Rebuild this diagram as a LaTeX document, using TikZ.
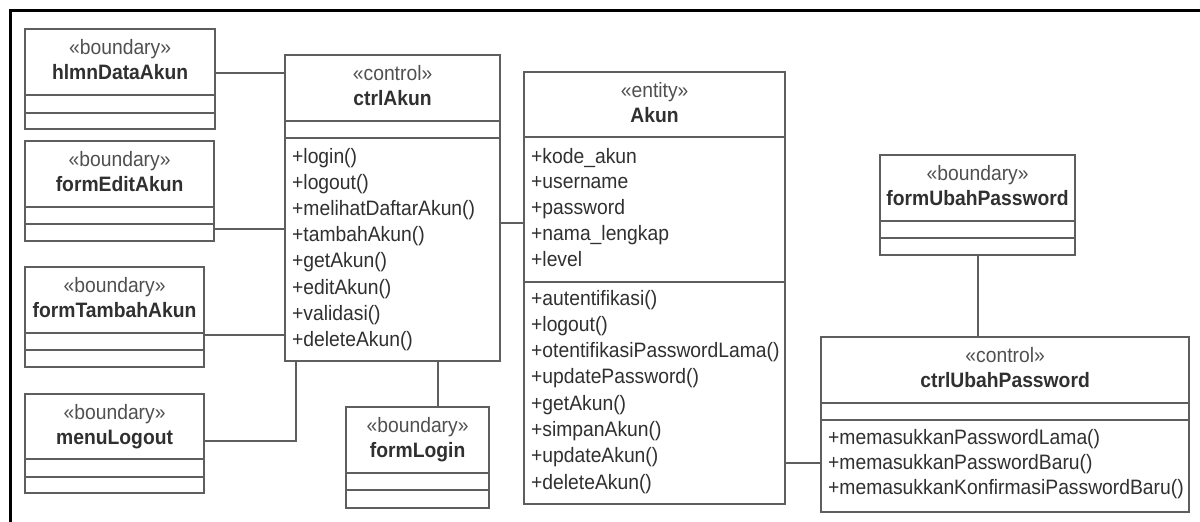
\documentclass[tikz,border=0pt]{standalone}
\usepackage{fontspec}
\usepackage{graphicx}
\setmainfont{Liberation Sans}
\usetikzlibrary{calc}

\definecolor{linegray}{HTML}{5E5E5E}
\definecolor{textdark}{HTML}{303030}
\definecolor{stereogray}{HTML}{505050}

% slightly taller glyphs for all labels
\newcommand\tall[1]{\scalebox{1}[1.08]{#1}}

% class box: name, x1, y1, x2, y2, first separator y, second separator y
\newcommand\umlbox[7]{%
  \node[classbox, anchor=north west,
        minimum width={#4-#2}, minimum height={#5-#3}] (#1) at (#2,#3) {};
  \draw[sepline] (#1.west |- 0,#6) -- (#1.east |- 0,#6);
  \draw[sepline] (#1.west |- 0,#7) -- (#1.east |- 0,#7);
}
% header: box name, stereotype, class name
\newcommand\umlhead[3]{%
  \node[stereo, anchor=base] (#1-st) at ($(#1.north)+(0,26)$) {\tall{#2}};
  \node[cname, anchor=base] (#1-nm) at ($(#1.north)+(0,51)$) {\tall{#3}};
}
% members: prefix, x, first baseline, step, list
\newcommand\umlmembers[5]{%
  \foreach \t [count=\i] in {#5}
    \node[member, anchor=base west] (#1-\i) at (#2, {#3+(\i-1)*#4}) {\tall{\t}};
}

\begin{document}
\begin{tikzpicture}[x=1pt, y=-1pt,
  classbox/.style={draw=linegray, line width=2.2pt, fill=white, inner sep=0pt},
  sepline/.style={draw=linegray, line width=2.2pt},
  link/.style={draw=linegray, line width=2.2pt},
  stereo/.style={text=stereogray, inner sep=0pt, font=\fontsize{19.3}{23}\selectfont},
  cname/.style={text=textdark, inner sep=0pt, font=\fontsize{19.3}{23}\selectfont\bfseries},
  member/.style={text=textdark, inner sep=0pt, font=\fontsize{19.3}{23}\selectfont}]

\fill[white] (0,0) rectangle (1200,522);
\useasboundingbox (0,0) rectangle (1200,522);

% outer frame
\draw[black, line width=3pt] (1200,10.8) -- (10,10.8) -- (10,522);

% boundary classes on the left
\umlbox{hlmn}{24}{28}{214}{128}{95}{113}
\umlhead{hlmn}{«boundary»}{hlmnDataAkun}
\umlbox{fedit}{24}{140}{213}{240}{207}{224}
\umlhead{fedit}{«boundary»}{formEditAkun}
\umlbox{ftambah}{24}{266}{203}{366}{333}{350}
\umlhead{ftambah}{«boundary»}{formTambahAkun}
\umlbox{mlogout}{24}{393}{203}{492}{459}{477}
\umlhead{mlogout}{«boundary»}{menuLogout}

% control ctrlAkun
\umlbox{cakun}{284}{54}{499}{360}{121}{138}
\umlhead{cakun}{«control»}{ctrlAkun}
\umlmembers{cakun-op}{292}{163}{26.2}{+login(),+logout(),+melihatDaftarAkun(),+tambahAkun(),+getAkun(),+editAkun(),+validasi(),+deleteAkun()}

% boundary formLogin
\umlbox{flogin}{345}{406}{488}{507}{473}{490}
\umlhead{flogin}{«boundary»}{formLogin}

% entity Akun
\umlbox{akun}{523}{71}{784}{503}{137}{282}
\umlhead{akun}{«entity»}{Akun}
\umlmembers{akun-at}{531}{163}{25.8}{+kode\_akun,+username,+password,+nama\_lengkap,+level}
\umlmembers{akun-op}{531}{305}{26.3}{+autentifikasi(),+logout(),+otentifikasiPasswordLama(),+updatePassword(),+getAkun(),+simpanAkun(),+updateAkun(),+deleteAkun()}

% boundary formUbahPassword
\umlbox{fubah}{879}{154}{1074}{254}{221}{238}
\umlhead{fubah}{«boundary»}{formUbahPassword}

% control ctrlUbahPassword
\umlbox{cubah}{820}{336}{1188}{511}{403}{420}
\umlhead{cubah}{«control»}{ctrlUbahPassword}
\umlmembers{cubah-op}{828}{444}{25}{+memasukkanPasswordLama(),+memasukkanPasswordBaru(),+memasukkanKonfirmasiPasswordBaru()}

% connector rows and columns
\coordinate (r1) at (0,73);
\coordinate (r2) at (0,229);
\coordinate (r3) at (0,335);
\coordinate (r4) at (0,441);
\coordinate (r5) at (0,223);
\coordinate (r6) at (0,463);
\coordinate (c1) at (296,0);
\coordinate (c2) at (438,0);

% associations
\draw[link] (hlmn.east |- r1) -- (cakun.west |- r1);
\draw[link] (fedit.east |- r2) -- (cakun.west |- r2);
\draw[link] (ftambah.east |- r3) -- (cakun.west |- r3);
\draw[link] (mlogout.east |- r4) -| (c1 |- cakun.south);
\draw[link] (c2 |- cakun.south) -- (c2 |- flogin.north);
\draw[link] (cakun.east |- r5) -- (akun.west |- r5);
\draw[link] (akun.east |- r6) -- (cubah.west |- r6);
\draw[link] (fubah.south) -- (fubah.south |- cubah.north);

\end{tikzpicture}
\end{document}
